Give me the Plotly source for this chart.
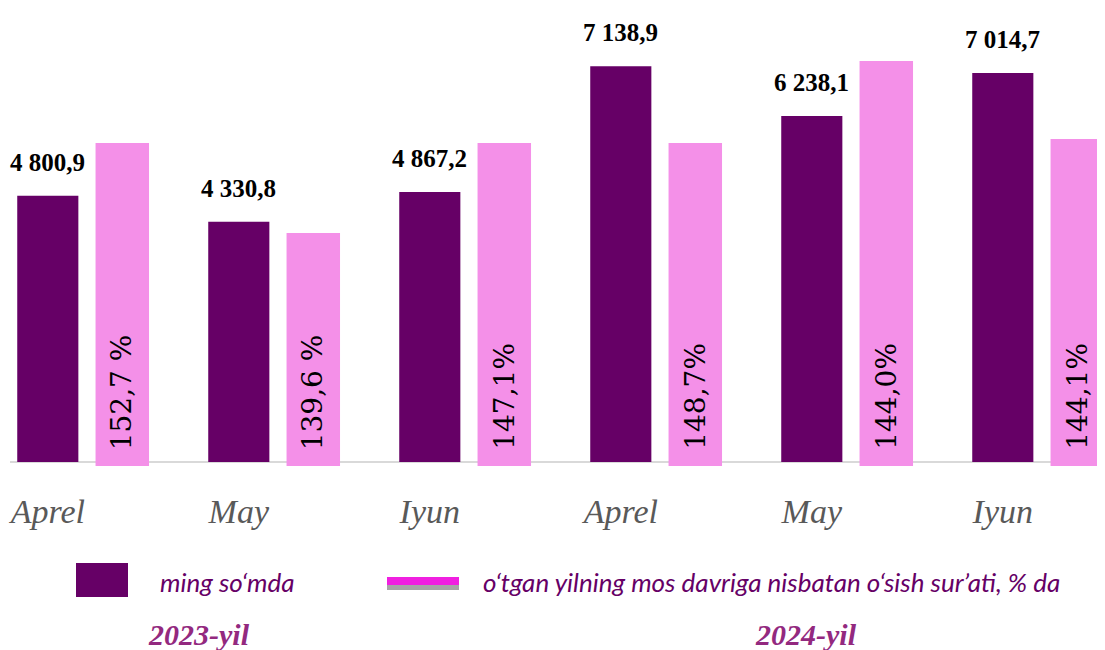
import plotly.graph_objects as go

# ---- data ----
months = ["Aprel", "May", "Iyun", "Aprel", "May", "Iyun"]
ming_somda = [4800.9, 4330.8, 4867.2, 7138.9, 6238.1, 7014.7]
ming_labels = ["4 800,9", "4 330,8", "4 867,2", "7 138,9", "6 238,1", "7 014,7"]
growth_labels = ["152,7 %", "139,6 %", "147,1%", "148,7%", "144,0%", "144,1%"]
# visual heights of the pink bars as drawn in the reference (same scale as main axis)
growth_bar_heights = [5753, 4130, 5753, 5753, 7232, 5825]
years = ["2023-yil", "2024-yil"]
legend_names = ["ming so‘mda", "o‘tgan yilning mos davriga nisbatan o‘sish sur’ati, % da"]

DARK = "#660066"
PINK = "#f490e8"
TXT_PURPLE = "#660066"
YEAR_PURPLE = "#93297f"

OFF = 8  # page body margin
W, H = 1105 - OFF, 650 - OFF
ML, MR, MT, MB = 2, 0, 0, 180
PW, PH = W - ML - MR, H - MT - MB
SCALE = 0.05545  # px per unit


def px(xr):
    return (xr - OFF - ML) / PW


def py(yr):
    return (H - MB - (yr - OFF)) / PH


xs = list(range(len(months)))
pink_base = -72

fig = go.Figure()
fig.add_trace(go.Bar(
    x=xs, y=ming_somda, width=0.32, marker=dict(color=DARK, line=dict(width=0)),
    name=legend_names[0], showlegend=False, hoverinfo="skip",
))
fig.add_trace(go.Bar(
    x=[i + 0.39 for i in xs], y=[h - pink_base for h in growth_bar_heights], base=pink_base,
    width=0.28, marker=dict(color=PINK, line=dict(width=0)),
    name=legend_names[1], showlegend=False, hoverinfo="skip",
))

for i, (v, lab) in enumerate(zip(ming_somda, ming_labels)):
    fig.add_annotation(x=i, y=v, text="<b>" + lab + "</b>", showarrow=False, yanchor="bottom", yshift=18,
                       font=dict(family="Liberation Serif", size=25, color="#000000"),
                       xref="x", yref="y")
for i, lab in enumerate(growth_labels):
    fig.add_annotation(x=i + 0.39, y=pink_base, text=lab, showarrow=False, textangle=-90,
                       xanchor="center", yanchor="bottom", yshift=14,
                       font=dict(family="DejaVu Serif", size=28, color="#000000"),
                       xref="x", yref="y")

# custom legend
shapes = [
    dict(type="rect", xref="paper", yref="paper", x0=px(76), x1=px(128), y0=py(597), y1=py(563),
         fillcolor=DARK, line=dict(width=0)),
    dict(type="rect", xref="paper", yref="paper", x0=px(387), x1=px(459), y0=py(585), y1=py(577),
         fillcolor="#f020e0", line=dict(width=0)),
    dict(type="rect", xref="paper", yref="paper", x0=px(387), x1=px(459), y0=py(590), y1=py(585),
         fillcolor="#a6a6a6", line=dict(width=0)),
]
fig.add_annotation(xref="paper", yref="paper", x=px(158), y=py(582), xanchor="left", yanchor="middle",
                   text="<i>" + legend_names[0] + "</i>", showarrow=False,
                   font=dict(family="Lato", size=26, color=TXT_PURPLE))
fig.add_annotation(xref="paper", yref="paper", x=px(481), y=py(582), xanchor="left", yanchor="middle",
                   text="<i>" + legend_names[1] + "</i>", showarrow=False,
                   font=dict(family="Lato", size=26, color=TXT_PURPLE))
for cx, yr in zip([199, 806], years):
    fig.add_annotation(xref="paper", yref="paper", x=px(cx), y=py(634), xanchor="center", yanchor="middle",
                       text="<b><i>" + yr + "</i></b>", showarrow=False,
                       font=dict(family="Liberation Serif", size=30, color=YEAR_PURPLE))

fig.update_layout(
    width=W, height=H, margin=dict(l=ML, r=MR, t=MT, b=MB),
    paper_bgcolor="white", plot_bgcolor="white",
    barmode="overlay", shapes=shapes, showlegend=False,
    xaxis=dict(range=[(OFF + ML - 47.8) / 191, (1105 - 47.8) / 191], tickvals=xs,
               ticktext=["<i>" + m + "</i>" for m in months],
               tickfont=dict(family="Liberation Serif", size=34, color="#595959"),
               showgrid=False, zeroline=False, showline=False, ticks="", ticklabelstandoff=18),
    yaxis=dict(range=[-8 / SCALE, (462 - OFF - MT) / SCALE], showgrid=False, showticklabels=False,
               zeroline=True, zerolinecolor="#d9d9d9", zerolinewidth=2, ticks=""),
)

fig.write_html("out.html")
